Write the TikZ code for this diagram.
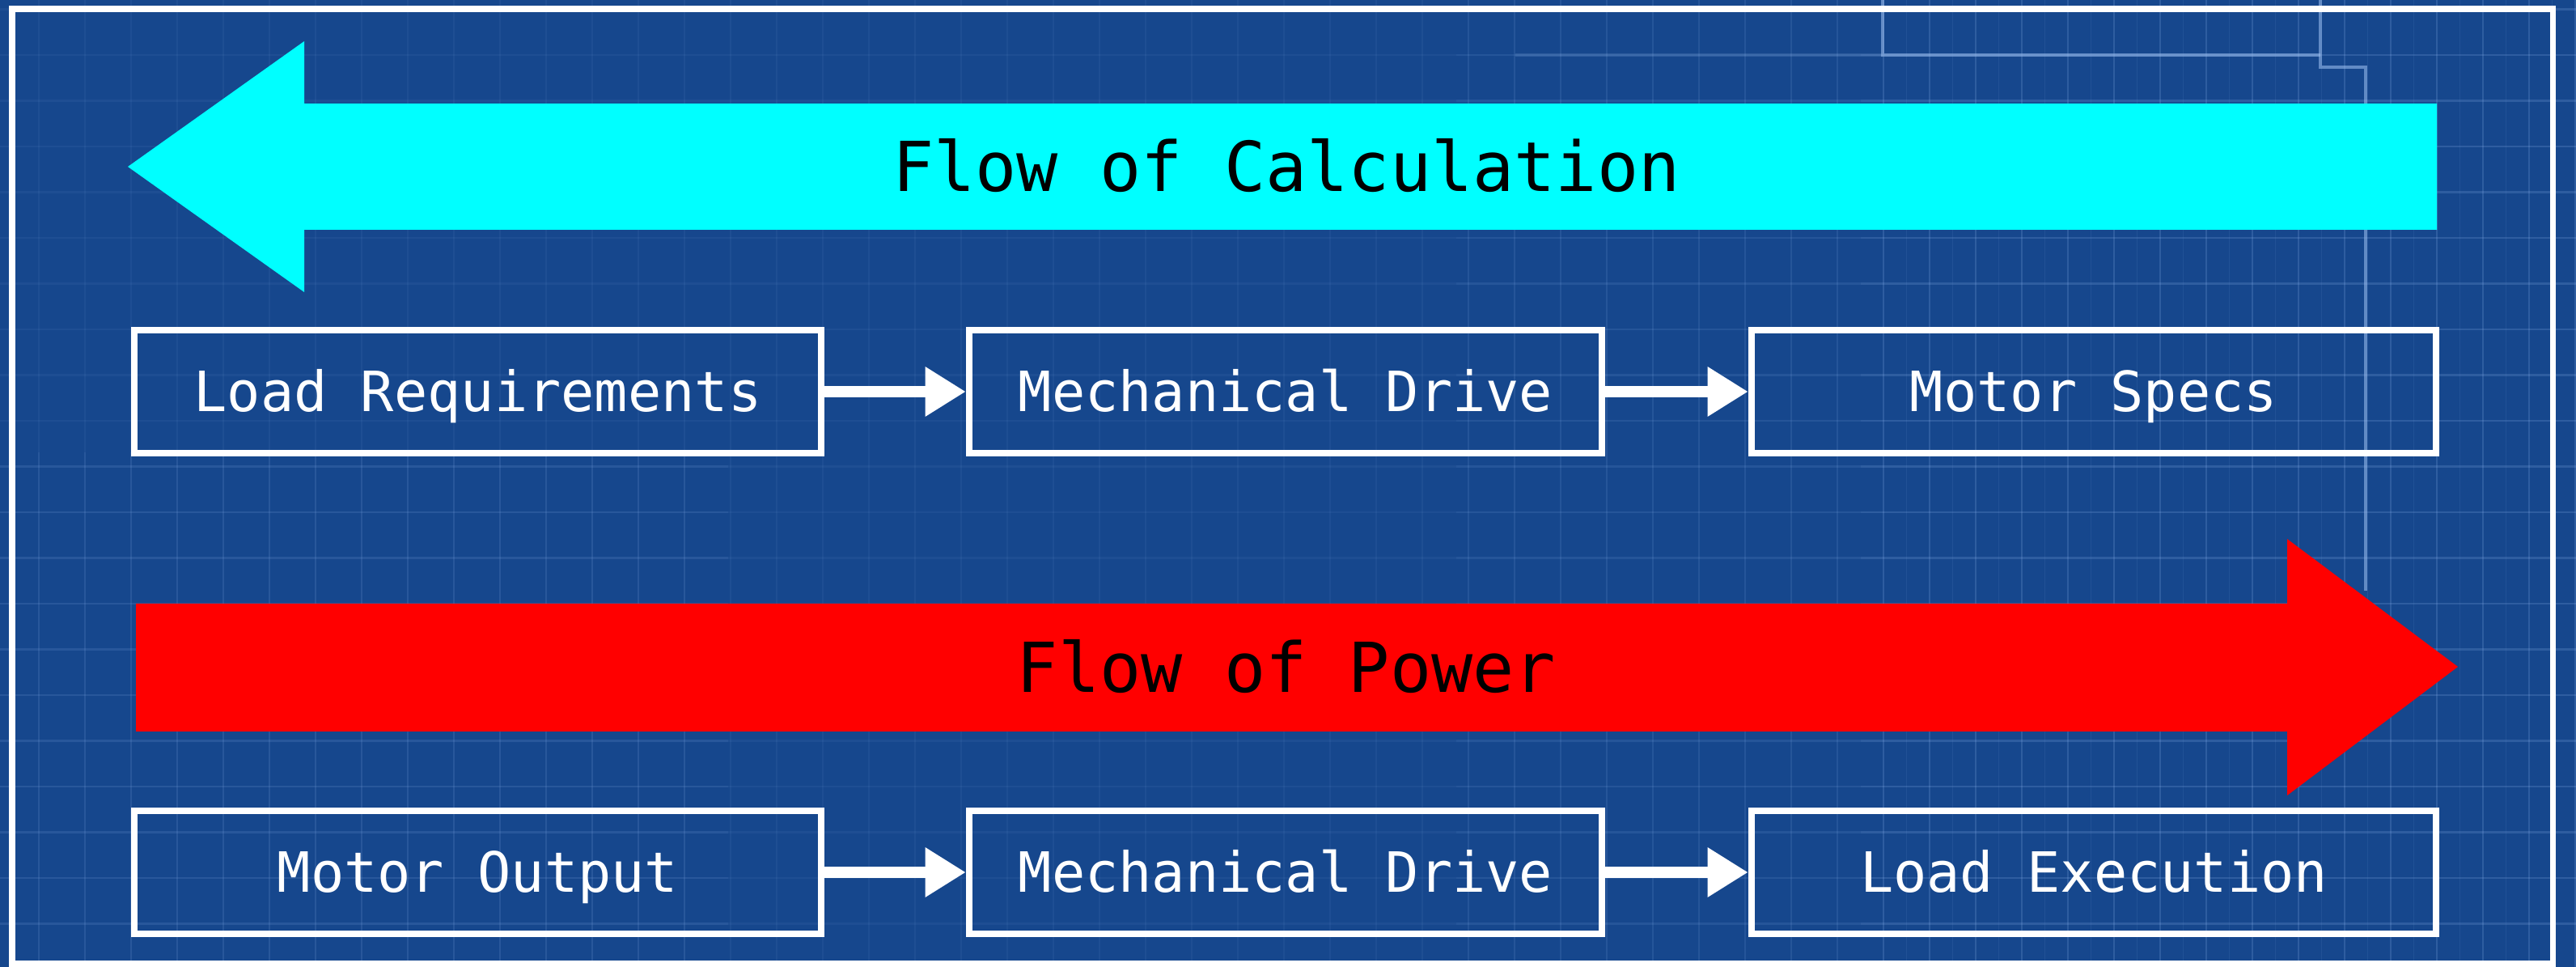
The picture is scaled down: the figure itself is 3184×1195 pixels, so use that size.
\documentclass[tikz,border=0pt]{standalone}
\usepackage{fontspec}
\setmonofont{DejaVu Sans Mono}
\usetikzlibrary{arrows.meta}
\definecolor{bg}{RGB}{22,71,141}
\definecolor{gridc}{RGB}{130,170,230}
\definecolor{trace}{RGB}{150,185,235}
\definecolor{calc}{RGB}{0,255,255}
\definecolor{pow}{RGB}{255,0,0}
\begin{document}
\begin{tikzpicture}[x=0.01cm,y=-0.01cm,
  box/.style={draw=white, line width=2.3pt, minimum height=1.52cm, text=white,
    font=\ttfamily\fontsize{19.5}{22}\selectfont, inner sep=0pt,
    text height=14.2pt, text depth=0pt},
  link/.style={draw=white, line width=4pt, -{Triangle[length=0.5cm,width=0.58cm]}},
  flowtext/.style={text=black, font=\ttfamily\fontsize{24.2}{28}\selectfont,
    inner sep=0pt, text height=17.6pt, text depth=0pt},
  gridline/.style={draw=gridc, line width=0.6pt},
  tracepath/.style={draw=trace, line width=1.3pt, opacity=0.6}]

\fill[bg] (0,0) rectangle (3184,1195);
\useasboundingbox (0,0) rectangle (3184,1195);

% faint background grid
\begin{scope}[opacity=0.08]
  \foreach \x in {48,105,...,3184} \draw[gridline] (\x,0) -- (\x,1195);
  \foreach \y in {11.5,68,...,1195} \draw[gridline] (0,\y) -- (3184,\y);
\end{scope}
\begin{scope}
  \clip (1800,0) rectangle (3184,1195);
  \begin{scope}[opacity=0.08]
    \foreach \x in {48,105,...,3184} \draw[gridline] (\x,0) -- (\x,1195);
    \foreach \y in {11.5,68,...,1195} \draw[gridline] (0,\y) -- (3184,\y);
  \end{scope}
\end{scope}
\begin{scope}
  \clip (2300,0) rectangle (3184,1195);
  \begin{scope}[opacity=0.10]
    \foreach \x in {48,105,...,3184} \draw[gridline] (\x,0) -- (\x,1195);
    \foreach \y in {11.5,68,...,1195} \draw[gridline] (0,\y) -- (3184,\y);
    \foreach \x in {76.5,133.5,...,3184} \draw[gridline, line width=0.4pt] (\x,0) -- (\x,1195);
  \end{scope}
\end{scope}
\begin{scope}
  \clip (0,560) rectangle (900,1195);
  \begin{scope}[opacity=0.10]
    \foreach \x in {48,105,...,3184} \draw[gridline] (\x,0) -- (\x,1195);
    \foreach \y in {11.5,68,...,1195} \draw[gridline] (0,\y) -- (3184,\y);
  \end{scope}
\end{scope}

% circuit traces
\draw[tracepath, opacity=0.2] (1873,68) -- (2327,68);
\draw[tracepath] (2327,0) -- (2327,68) -- (2868,68);
\draw[tracepath] (2868,0) -- (2868,83) -- (2924,83) -- (2924,730);

% frame
\draw[white, line width=2pt] (15,11) rectangle (3155,1191);

% big flow arrows
\fill[calc] (158,206) -- (376,51) -- (376,128) -- (3012,128) -- (3012,284)
  -- (376,284) -- (376,361) -- cycle;
\fill[pow] (168,746) -- (2827,746) -- (2827,666) -- (3038,824) -- (2827,983)
  -- (2827,904) -- (168,904) -- cycle;

\node[flowtext] (calc) at (1590,206) {Flow of Calculation};
\node[flowtext] (power) at (1590,825) {Flow of Power};

% row 1
\node[box, minimum width=8.49cm] (lr) at (590.5,484) {Load Requirements};
\node[box, minimum width=7.82cm] (md1) at (1589,484) {Mechanical Drive};
\node[box, minimum width=8.46cm] (ms) at (2588,484) {Motor Specs};
% row 2
\node[box, minimum width=8.49cm] (mo) at (590.5,1078) {Motor Output};
\node[box, minimum width=7.82cm] (md2) at (1589,1078) {Mechanical Drive};
\node[box, minimum width=8.46cm] (le) at (2588,1078) {Load Execution};

\draw[link] (lr) -- (md1);
\draw[link] (md1) -- (ms);
\draw[link] (mo) -- (md2);
\draw[link] (md2) -- (le);
\end{tikzpicture}
\end{document}
